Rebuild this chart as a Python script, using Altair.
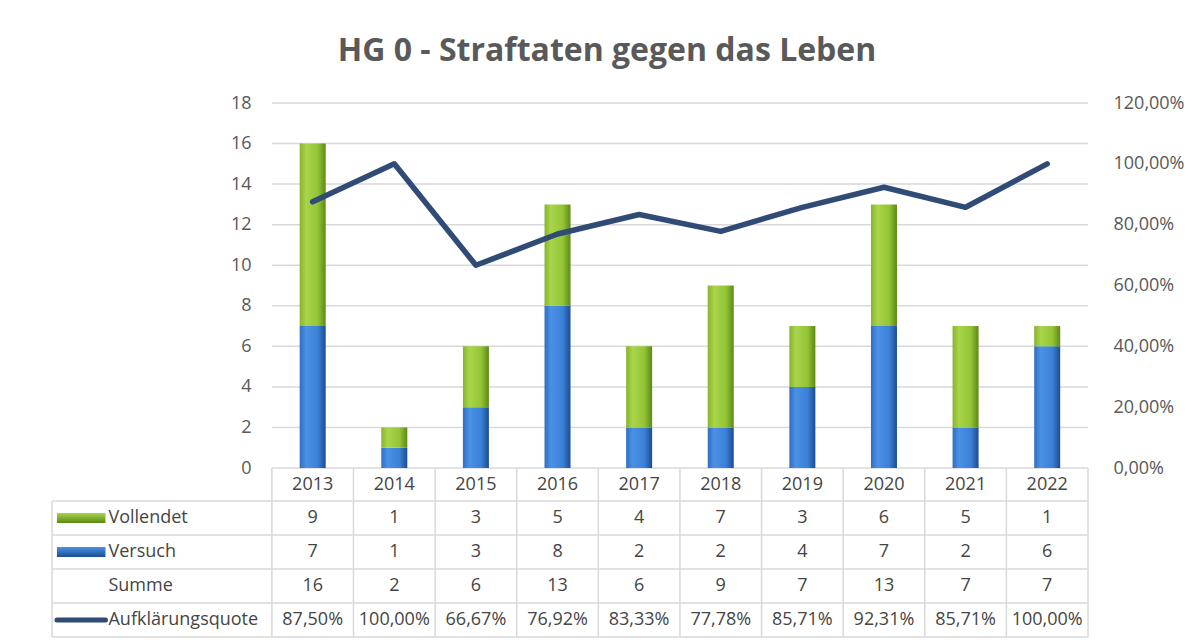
import altair as alt
import pandas as pd

# ---------------- data ----------------
years = [2013, 2014, 2015, 2016, 2017, 2018, 2019, 2020, 2021, 2022]
vollendet = [9, 1, 3, 5, 4, 7, 3, 6, 5, 1]
versuch = [7, 1, 3, 8, 2, 2, 4, 7, 2, 6]
summe = [16, 2, 6, 13, 6, 9, 7, 13, 7, 7]
quote = [87.50, 100.00, 66.67, 76.92, 83.33, 77.78, 85.71, 92.31, 85.71, 100.00]
quote_text = ["87,50%", "100,00%", "66,67%", "76,92%", "83,33%",
              "77,78%", "85,71%", "92,31%", "85,71%", "100,00%"]
row_labels = ["Vollendet", "Versuch", "Summe", "Aufklärungsquote"]
left_ticks = [0, 2, 4, 6, 8, 10, 12, 14, 16, 18]
right_ticks = [0, 0.2, 0.4, 0.6, 0.8, 1.0, 1.2]

# ---------------- layout helpers (scale units) ----------------
N = len(years)
COL_PX = 82.4
LABEL_COLS = 222 / COL_PX          # width of the label column in column units
Y_PER_PX = 18 / 365
HEADER_H = 33 * Y_PER_PX
ROW_H = 34 * Y_PER_PX
Y_MIN = -(HEADER_H + 4 * ROW_H)
Y2_MIN = Y_MIN / 18 * 1.2

GRAY_TXT = "#595959"
TBL_TXT = "#454545"
LINE_C = "#2f4b76"
GRID_C = "#d9d9d9"
FONT = "Open Sans"
FS = 18

df = pd.DataFrame({
    "pos": [i + 0.5 for i in range(N)],
    "Jahr": years,
    "Versuch": versuch,
    "Vollendet": vollendet,
    "Summe": summe,
    "Quote": [q / 100 for q in quote],
})

xscale = alt.Scale(domain=[-LABEL_COLS, N], nice=False, zero=False)
yscale = alt.Scale(domain=[Y_MIN, 18], nice=False, zero=False)
yaxis = alt.Axis(values=left_ticks, title=None, domain=False, ticks=False, grid=False,
                 offset=-222, labelPadding=18, labelFontSize=FS, labelColor=GRAY_TXT,
                 labelFont=FONT)


def X(f):
    return alt.X(f, type="quantitative", scale=xscale, axis=None)


def Y(f):
    return alt.Y(f, type="quantitative", scale=yscale, axis=yaxis)


green = alt.Gradient(gradient="linear", x1=0, x2=1, y1=0, y2=0, stops=[
    alt.GradientStop(color="#86b42a", offset=0),
    alt.GradientStop(color="#a9d54b", offset=0.25),
    alt.GradientStop(color="#94c436", offset=0.7),
    alt.GradientStop(color="#5c8916", offset=1)])
blue = alt.Gradient(gradient="linear", x1=0, x2=1, y1=0, y2=0, stops=[
    alt.GradientStop(color="#2f6dc2", offset=0),
    alt.GradientStop(color="#4a92e6", offset=0.25),
    alt.GradientStop(color="#3b80d6", offset=0.7),
    alt.GradientStop(color="#1d4c90", offset=1)])

# grid lines
grid_df = pd.DataFrame({"y": left_ticks, "x0": 0, "x1": N})
grid = alt.Chart(grid_df).mark_rule(color=GRID_C, strokeWidth=1.5).encode(
    x=X("x0"), x2="x1", y=Y("y"))

# bars
bar_v = alt.Chart(df).mark_bar(size=26, color=blue).encode(
    x=X("pos"), y=Y("Versuch"), y2=alt.datum(0))
bar_voll = alt.Chart(df).mark_bar(size=26, color=green).encode(
    x=X("pos"), y=Y("Versuch"), y2="Summe")

# table lines
hb = [-(HEADER_H + k * ROW_H) for k in range(5)]
hlines = pd.DataFrame({"y": hb, "x0": -LABEL_COLS, "x1": N})
vlines = pd.DataFrame({
    "x": [-LABEL_COLS] + list(range(N + 1)),
    "y0": [-HEADER_H] + [0] * (N + 1),
    "y1": Y_MIN,
})
t_h = alt.Chart(hlines).mark_rule(color=GRID_C, strokeWidth=1.5).encode(
    x=X("x0"), x2="x1", y=Y("y"))
t_v = alt.Chart(vlines).mark_rule(color=GRID_C, strokeWidth=1.5).encode(
    x=X("x"), y=Y("y0"), y2="y1")

# table texts
rows = []
for i, yr in enumerate(years):
    rows.append({"x": i + 0.5, "y": -HEADER_H / 2, "t": str(yr)})
    rows.append({"x": i + 0.5, "y": -(HEADER_H + 0.5 * ROW_H), "t": str(vollendet[i])})
    rows.append({"x": i + 0.5, "y": -(HEADER_H + 1.5 * ROW_H), "t": str(versuch[i])})
    rows.append({"x": i + 0.5, "y": -(HEADER_H + 2.5 * ROW_H), "t": str(summe[i])})
    rows.append({"x": i + 0.5, "y": -(HEADER_H + 3.5 * ROW_H), "t": quote_text[i]})
cells = alt.Chart(pd.DataFrame(rows)).mark_text(
    font=FONT, fontSize=FS, color=TBL_TXT, baseline="middle", align="center").encode(
    x=X("x"), y=Y("y"), text="t:N")

lab_x = -LABEL_COLS + 57 / COL_PX
lab_df = pd.DataFrame({
    "x": [lab_x] * 4,
    "y": [-(HEADER_H + (k + 0.5) * ROW_H) for k in range(4)],
    "t": row_labels,
})
labels = alt.Chart(lab_df).mark_text(
    font=FONT, fontSize=FS, color=TBL_TXT, baseline="middle", align="left").encode(
    x=X("x"), y=Y("y"), text="t:N")

sw_x0 = -LABEL_COLS + 5 / COL_PX
sw_x1 = -LABEL_COLS + 54 / COL_PX
sw_h = 5 * Y_PER_PX
sw_df = pd.DataFrame({
    "x0": [sw_x0], "x1": [sw_x1],
    "yv0": [-(HEADER_H + 0.5 * ROW_H) - sw_h], "yv1": [-(HEADER_H + 0.5 * ROW_H) + sw_h],
    "yb0": [-(HEADER_H + 1.5 * ROW_H) - sw_h], "yb1": [-(HEADER_H + 1.5 * ROW_H) + sw_h],
    "yq": [-(HEADER_H + 3.5 * ROW_H)],
})
sw_green = alt.Chart(sw_df).mark_rect(color=alt.Gradient(
    gradient="linear", x1=0, x2=0, y1=0, y2=1, stops=[
        alt.GradientStop(color="#a9d54b", offset=0),
        alt.GradientStop(color="#5c8916", offset=1)])).encode(
    x=X("x0"), x2="x1", y=Y("yv0"), y2="yv1")
sw_blue = alt.Chart(sw_df).mark_rect(color=alt.Gradient(
    gradient="linear", x1=0, x2=0, y1=0, y2=1, stops=[
        alt.GradientStop(color="#4a92e6", offset=0),
        alt.GradientStop(color="#1d4c90", offset=1)])).encode(
    x=X("x0"), x2="x1", y=Y("yb0"), y2="yb1")
sw_line = alt.Chart(sw_df).mark_rule(color=LINE_C, strokeWidth=5, strokeCap="round").encode(
    x=X("x0"), x2="x1", y=Y("yq"))

left = alt.layer(grid, t_h, t_v, bar_v, bar_voll, cells, labels,
                 sw_green, sw_blue, sw_line)

line = alt.Chart(df).mark_line(color=LINE_C, strokeWidth=5.5, strokeJoin="round",
                               strokeCap="round").encode(
    x=X("pos"),
    y=alt.Y("Quote:Q", scale=alt.Scale(domain=[Y2_MIN, 1.2], nice=False, zero=False),
            axis=alt.Axis(orient="right", values=right_ticks, title=None, domain=False,
                          ticks=False, grid=False, labelPadding=20, labelFontSize=FS,
                          labelColor=GRAY_TXT, labelFont=FONT,
                          labelExpr="replace(format(datum.value, '.2%'), '.', ',')")),
)

chart = alt.layer(left, line).resolve_scale(y="independent").properties(
    width=1046, height=534,
    background="white",
    padding={"left": 39, "top": 27, "right": 5, "bottom": 0},
    title=alt.TitleParams("HG 0 - Straftaten gegen das Leben", font=FONT, fontSize=32,
                          fontWeight="bold", color=GRAY_TXT, anchor="middle",
                          dx=37, offset=26),
).configure_view(stroke=None)

chart.save("out.html", embed_options={"renderer": "svg", "actions": False})
